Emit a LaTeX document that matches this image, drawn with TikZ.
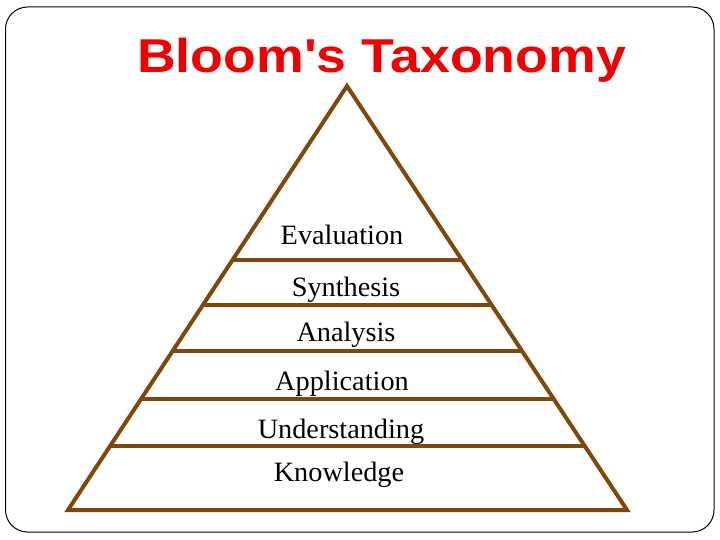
\documentclass[tikz,border=0pt]{standalone}
\usepackage{fontspec}
\setmainfont{Liberation Serif}
\newfontfamily\titlefont{Liberation Sans}
\usetikzlibrary{calc}
\definecolor{pbrown}{RGB}{128,70,10}
\definecolor{tred}{RGB}{240,0,0}
\tikzset{
  edge/.style={draw=pbrown, line width=4bp, line join=miter, line cap=butt},
  level/.style={anchor=base, inner sep=0pt, font=\fontsize{28bp}{30bp}\selectfont},
  ttl/.style={anchor=base, inner sep=0pt, text=tred, font=\titlefont\bfseries\fontsize{47.5bp}{50bp}\selectfont}
}
\newcommand{\wide}[1]{\scalebox{1.13}[1]{#1}}
\newcommand{\wlab}[1]{\scalebox{1.01}[1]{#1}}
\begin{document}
\begin{tikzpicture}[x=1bp,y=-1bp]
\useasboundingbox (0,0) rectangle (720,540);
\draw[black, line width=1bp, rounded corners=22bp] (5.5,7) rectangle (714,532);
\node[ttl] (title) at (381.5,73) {\wide{Bloom's Taxonomy}};
\coordinate (A) at (347,86);
\coordinate (BL) at (68,510);
\coordinate (BR) at (627,510);
\draw[edge] (A) -- (BL) -- (BR) -- cycle;
\foreach \t in {0.4104,0.5165,0.625,0.7382,0.849}{
  \draw[edge] ($(A)!\t!(BL)$) -- ($(A)!\t!(BR)$);
}
\node[level] (eval) at (342,245) {\wlab{Evaluation}};
\node[level] (synth) at (346,296) {\wlab{Synthesis}};
\node[level] (anal) at (346,341) {\wlab{Analysis}};
\node[level] (appl) at (342,390) {\wlab{Application}};
\node[level] (under) at (341,438) {\wlab{Understanding}};
\node[level] (know) at (339,481) {\wlab{Knowledge}};
\end{tikzpicture}
\end{document}
